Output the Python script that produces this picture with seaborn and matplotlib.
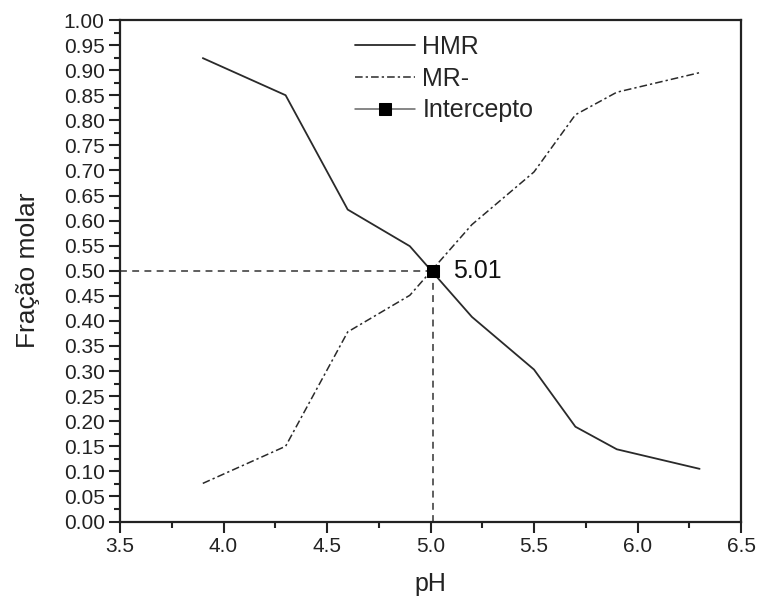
import numpy as np
import pandas as pd
import matplotlib
matplotlib.use("Agg")
import matplotlib.pyplot as plt
import seaborn as sns
from matplotlib.ticker import MultipleLocator, FormatStrFormatter

# Data
ph = [3.9, 4.3, 4.6, 4.9, 5.2, 5.5, 5.7, 5.9, 6.3]
hmr = [0.924, 0.850, 0.622, 0.549, 0.408, 0.303, 0.189, 0.144, 0.105]
mr = [0.076, 0.150, 0.378, 0.451, 0.592, 0.697, 0.811, 0.856, 0.895]
intercept_x = [5.01]
intercept_y = [0.50]
intercept_label = "5.01"

sns.set_theme(style="ticks")
plt.rcParams['font.family'] = ['Liberation Sans', 'DejaVu Sans']

fig = plt.figure(figsize=(7.57, 5.99), dpi=100)
ax = fig.add_axes([120/757, 1-521.5/599, (741-120)/757, (521.5-20)/599])

df_h = pd.DataFrame({"pH": ph, "y": hmr})
df_m = pd.DataFrame({"pH": ph, "y": mr})
df_i = pd.DataFrame({"pH": intercept_x, "y": intercept_y})

# guide lines
ax.plot([3.5, intercept_x[0]], [intercept_y[0], intercept_y[0]], color='#333333', lw=1.1,
        linestyle=(0, (4.5, 3.5)), zorder=2)
ax.plot([intercept_x[0], intercept_x[0]], [0, intercept_y[0]], color='#333333', lw=1.1,
        linestyle=(0, (4.5, 3.5)), zorder=2)

sns.lineplot(data=df_h, x="pH", y="y", ax=ax, color='#2a2a2a', lw=1.3, label='HMR',
             estimator=None, sort=False)
sns.lineplot(data=df_m, x="pH", y="y", ax=ax, color='#2a2a2a', lw=1.1, label='MR-',
             estimator=None, sort=False, linestyle=(0, (5, 2, 1.5, 2)))
sns.lineplot(data=df_i, x="pH", y="y", ax=ax, color='#666666', lw=1.1, label='Intercepto',
             estimator=None, marker='s', markersize=9, markerfacecolor='black',
             markeredgecolor='black', zorder=5)

ax.text(5.11, 0.50, intercept_label, fontsize=18, ha='left', va='center', color='#111111')

ax.set_xlim(3.5, 6.5)
ax.set_ylim(0, 1.0)
ax.xaxis.set_major_locator(MultipleLocator(0.5))
ax.xaxis.set_minor_locator(MultipleLocator(0.25))
ax.yaxis.set_major_locator(MultipleLocator(0.05))
ax.yaxis.set_minor_locator(MultipleLocator(0.025))
ax.xaxis.set_major_formatter(FormatStrFormatter('%.1f'))
ax.yaxis.set_major_formatter(FormatStrFormatter('%.2f'))
ax.tick_params(axis='both', which='major', direction='out', length=8, width=1.5,
               labelsize=15, colors='#222222', pad=3)
ax.tick_params(axis='both', which='minor', direction='out', length=4, width=1.5, colors='#222222')
ax.tick_params(top=False, right=False, which='both')
for s in ax.spines.values():
    s.set_visible(True)
    s.set_linewidth(1.6)
    s.set_color('#222222')

ax.set_xlabel('pH', fontsize=18, color='#222222', labelpad=12)
ax.set_ylabel('Fração molar', fontsize=19, color='#222222', labelpad=17)

leg = ax.legend(loc='upper left', bbox_to_anchor=(355/757, 1-35/599),
                bbox_transform=fig.transFigure, frameon=False, fontsize=18,
                handlelength=2.4, handletextpad=0.3, labelspacing=0.31,
                borderpad=0, borderaxespad=0)

fig.savefig('out.png', dpi=100)
